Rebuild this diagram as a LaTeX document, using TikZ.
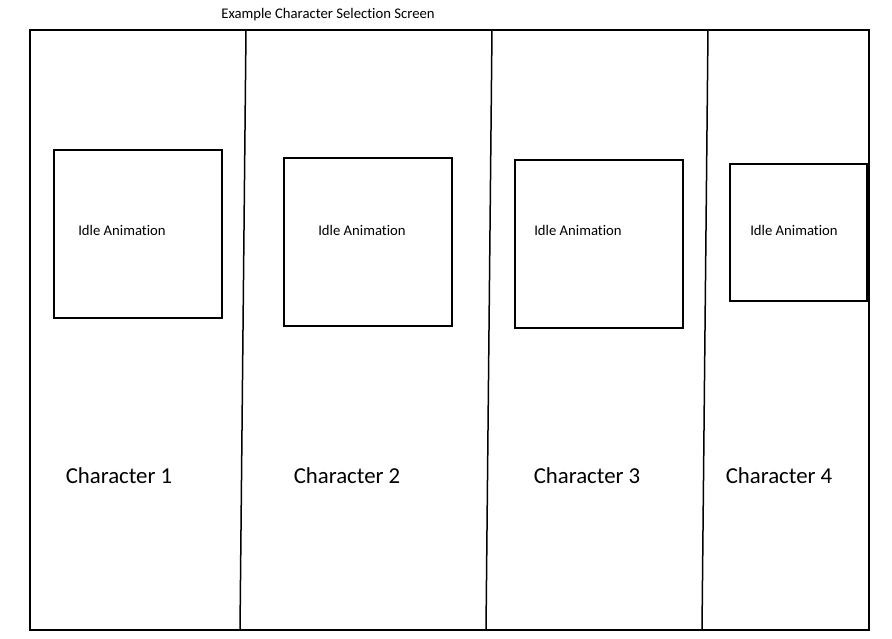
\documentclass[tikz,border=0pt]{standalone}
\usepackage{fontspec}
\setmainfont[Ligatures=NoCommon]{Carlito}
\begin{document}
\begin{tikzpicture}[x=1pt,y=-1pt,
  frame/.style={line width=1.5pt,draw=black},
  idle/.style={font=\fontsize{14.7}{17}\selectfont,inner sep=0pt},
  charlbl/.style={font=\fontsize{22.8}{27}\selectfont,inner sep=0pt},
  titlelbl/.style={font=\fontsize{14.7}{17}\selectfont,inner sep=0pt}]
\useasboundingbox (0,0) rectangle (892,639);
\fill[white] (0,0) rectangle (892,639);
\node[titlelbl] (title) at (328,15) {Example Character Selection Screen};
% outer frame
\coordinate (tl) at (30,30);
\coordinate (br) at (869,630);
\draw[frame] (tl) rectangle (br);
% dividers
\coordinate (d1t) at (246,30); \coordinate (d1b) at (240,630);
\coordinate (d2t) at (492,30); \coordinate (d2b) at (486,630);
\coordinate (d3t) at (708,30); \coordinate (d3b) at (702,630);
\draw[frame] (d1t) -- (d1b);
\draw[frame] (d2t) -- (d2b);
\draw[frame] (d3t) -- (d3b);
% idle animation boxes
\draw[frame] (54,150) rectangle (222,318);
\draw[frame] (284,158) rectangle (452,326);
\draw[frame] (515,160) rectangle (683,328);
\draw[frame] (730,164) rectangle (867,301);
\node[idle] (i1) at (122,230) {Idle Animation};
\node[idle] (i2) at (362,230) {Idle Animation};
\node[idle] (i3) at (578,230) {Idle Animation};
\node[idle] (i4) at (794,230) {Idle Animation};
% character labels
\node[charlbl] (c1) at (119,476) {Character 1};
\node[charlbl] (c2) at (347,476) {Character 2};
\node[charlbl] (c3) at (587,476) {Character 3};
\node[charlbl] (c4) at (779,476) {Character 4};
\end{tikzpicture}
\end{document}
